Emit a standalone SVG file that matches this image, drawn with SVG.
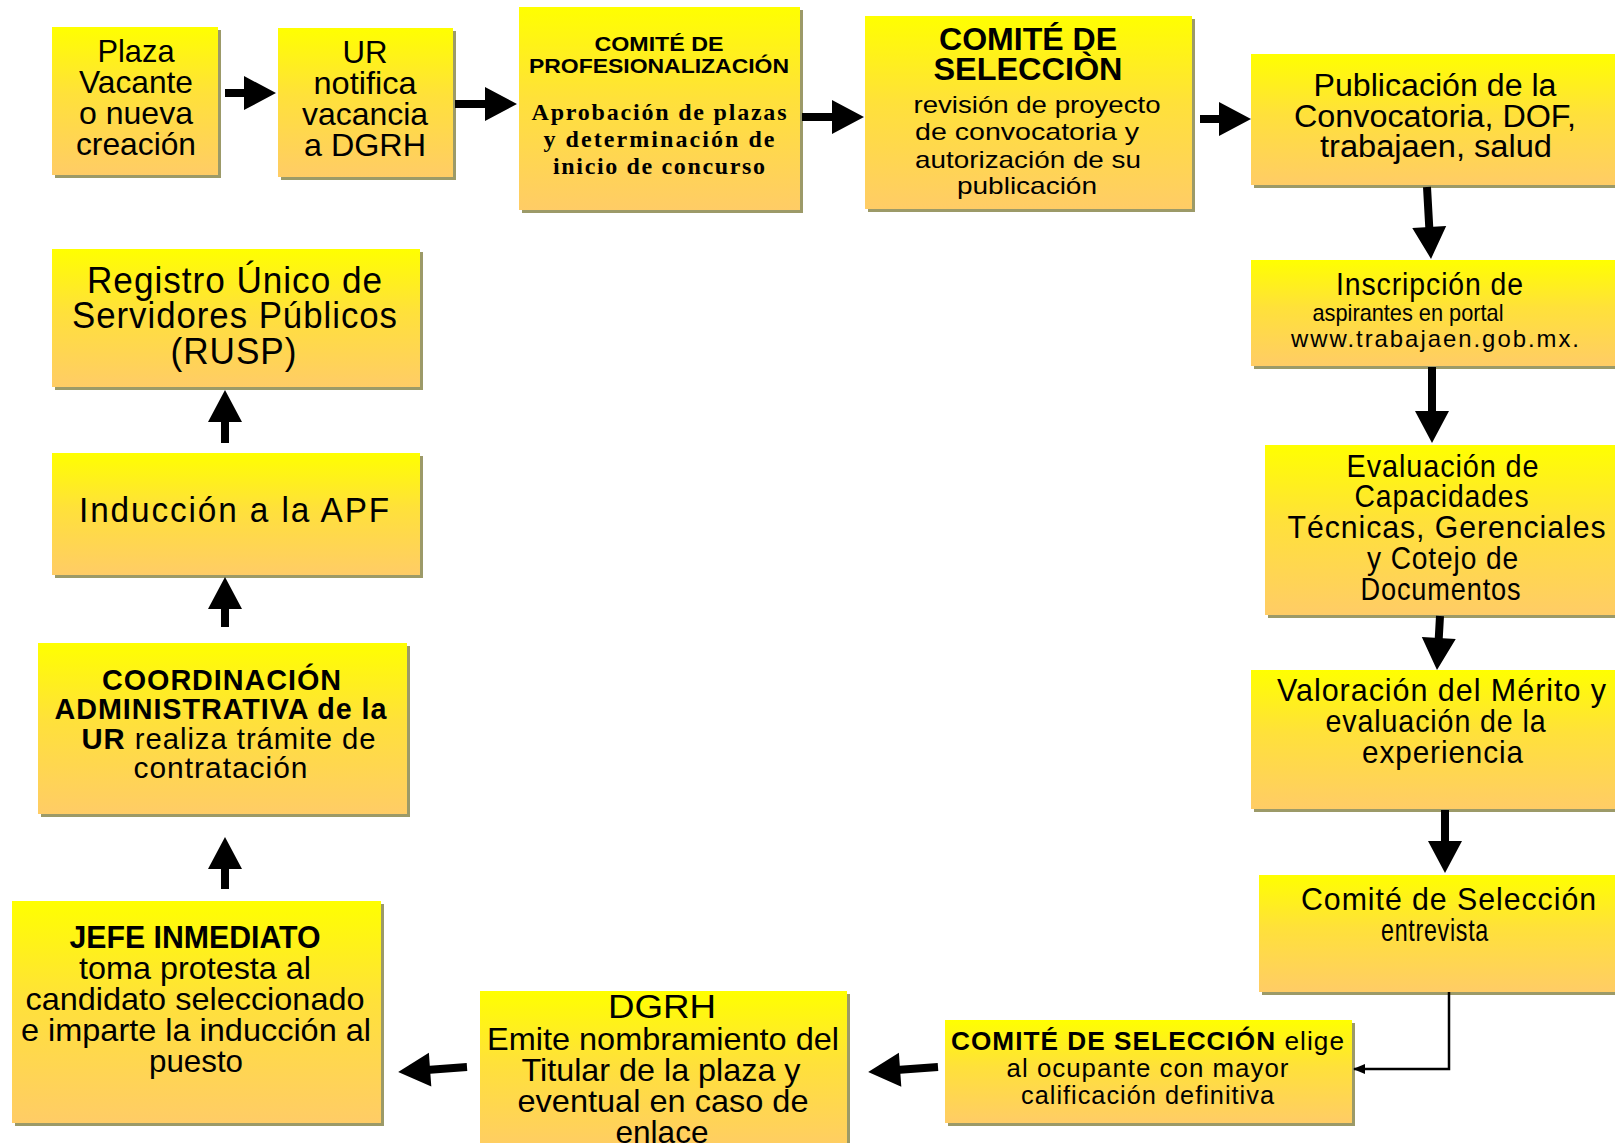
<svg xmlns="http://www.w3.org/2000/svg" width="1615" height="1143" viewBox="0 0 1615 1143">
<defs>
<linearGradient id="g" x1="0" y1="0" x2="0" y2="1">
<stop offset="0" stop-color="#ffff00"/>
<stop offset="0.45" stop-color="#ffe13a"/>
<stop offset="1" stop-color="#ffcc66"/>
</linearGradient>
<marker id="m" markerWidth="12" markerHeight="10" refX="11" refY="5" orient="auto" markerUnits="userSpaceOnUse">
<path d="M0,0 L12,5 L0,10 Z" fill="#000"/>
</marker>
</defs>
<style>
.sh{fill:#9c9a68}
.bx{fill:url(#g)}
text{font-family:"Liberation Sans",Arial,sans-serif;fill:#000;text-anchor:middle}
.b{font-weight:bold}
.serif{font-family:"Liberation Serif","Times New Roman",serif;font-weight:bold}
.arr{fill:#000}
.ls1{letter-spacing:1px}
.ls2{letter-spacing:2px}
</style>
<rect width="1615" height="1143" fill="#fff"/>

<g id="n1">
<rect class="sh" x="55" y="30" width="166" height="148"/>
<rect class="bx" x="52" y="27" width="166" height="148"/>
<text font-size="32"><tspan x="136" y="62" textLength="77" lengthAdjust="spacingAndGlyphs">Plaza</tspan><tspan x="136" y="93" textLength="114" lengthAdjust="spacingAndGlyphs">Vacante</tspan><tspan x="136" y="124" textLength="114" lengthAdjust="spacingAndGlyphs">o nueva</tspan><tspan x="136" y="155" textLength="120" lengthAdjust="spacingAndGlyphs">creación</tspan></text>
</g>

<g id="n2">
<rect class="sh" x="281" y="31" width="175" height="149"/>
<rect class="bx" x="278" y="28" width="175" height="149"/>
<text font-size="32"><tspan x="365" y="63" textLength="45" lengthAdjust="spacingAndGlyphs">UR</tspan><tspan x="365" y="94" textLength="103" lengthAdjust="spacingAndGlyphs">notifica</tspan><tspan x="365" y="125" textLength="126" lengthAdjust="spacingAndGlyphs">vacancia</tspan><tspan x="365" y="156" textLength="122" lengthAdjust="spacingAndGlyphs">a DGRH</tspan></text>
</g>

<g id="n3">
<rect class="sh" x="522" y="10" width="281" height="203"/>
<rect class="bx" x="519" y="7" width="281" height="203"/>
<text class="b" font-size="20"><tspan x="659" y="51" textLength="129" lengthAdjust="spacingAndGlyphs">COMITÉ DE</tspan><tspan x="659" y="73" textLength="260" lengthAdjust="spacingAndGlyphs">PROFESIONALIZACIÓN</tspan></text>
<text class="serif" font-size="24"><tspan x="659" y="120" textLength="255" lengthAdjust="spacing">Aprobación de plazas</tspan><tspan x="659" y="147" textLength="231" lengthAdjust="spacing">y determinación de</tspan><tspan x="659" y="174" textLength="212" lengthAdjust="spacing">inicio de concurso</tspan></text>
</g>

<g id="n4">
<rect class="sh" x="868" y="19" width="327" height="193"/>
<rect class="bx" x="865" y="16" width="327" height="193"/>
<text class="b" font-size="32"><tspan x="1028" y="50" textLength="178" lengthAdjust="spacingAndGlyphs">COMITÉ DE</tspan><tspan x="1028" y="80" textLength="189" lengthAdjust="spacingAndGlyphs">SELECCIÒN</tspan></text>
<text font-size="24"><tspan x="1037" y="113" textLength="247" lengthAdjust="spacingAndGlyphs">revisión de proyecto</tspan><tspan x="1027" y="140" textLength="224" lengthAdjust="spacingAndGlyphs">de convocatoria y</tspan><tspan x="1028" y="168" textLength="226" lengthAdjust="spacingAndGlyphs">autorización de su</tspan><tspan x="1027" y="194" textLength="140" lengthAdjust="spacingAndGlyphs">publicación</tspan></text>
</g>

<g id="n5">
<rect class="sh" x="1254" y="57" width="370" height="131"/>
<rect class="bx" x="1251" y="54" width="370" height="131"/>
<text font-size="31"><tspan x="1435" y="96" textLength="243" lengthAdjust="spacingAndGlyphs">Publicación de la</tspan><tspan x="1435" y="127" textLength="282" lengthAdjust="spacingAndGlyphs">Convocatoria, DOF,</tspan><tspan x="1436" y="157" textLength="232" lengthAdjust="spacingAndGlyphs">trabajaen, salud</tspan></text>
</g>

<g id="n6">
<rect class="sh" x="1254" y="263" width="370" height="106"/>
<rect class="bx" x="1251" y="260" width="370" height="106"/>
<text><tspan class="ls1" x="1430" y="295" font-size="31" textLength="188" lengthAdjust="spacingAndGlyphs">Inscripción de</tspan><tspan x="1408" y="321" font-size="24" textLength="191" lengthAdjust="spacingAndGlyphs">aspirantes en portal</tspan><tspan class="ls2" x="1436" y="347" font-size="24" textLength="290" lengthAdjust="spacingAndGlyphs">www.trabajaen.gob.mx.</tspan></text>
</g>

<g id="n7">
<rect class="sh" x="1268" y="448" width="360" height="170"/>
<rect class="bx" x="1265" y="445" width="360" height="170"/>
<text class="ls1" font-size="32"><tspan x="1443" y="477" textLength="193" lengthAdjust="spacingAndGlyphs">Evaluación de</tspan><tspan x="1442" y="507" textLength="175" lengthAdjust="spacingAndGlyphs">Capacidades</tspan><tspan x="1447" y="538" textLength="319" lengthAdjust="spacingAndGlyphs">Técnicas, Gerenciales</tspan><tspan x="1443" y="569" textLength="152" lengthAdjust="spacingAndGlyphs">y Cotejo de</tspan><tspan x="1441" y="600" textLength="161" lengthAdjust="spacingAndGlyphs">Documentos</tspan></text>
</g>

<g id="n8">
<rect class="sh" x="1254" y="673" width="370" height="139"/>
<rect class="bx" x="1251" y="670" width="370" height="139"/>
<text class="ls1" font-size="32"><tspan x="1442" y="701" textLength="330" lengthAdjust="spacingAndGlyphs">Valoración del Mérito y</tspan><tspan x="1436" y="732" textLength="221" lengthAdjust="spacingAndGlyphs">evaluación de la</tspan><tspan x="1443" y="763" textLength="162" lengthAdjust="spacingAndGlyphs">experiencia</tspan></text>
</g>

<g id="n9">
<rect class="sh" x="1262" y="878" width="360" height="117"/>
<rect class="bx" x="1259" y="875" width="360" height="117"/>
<text class="ls1" font-size="32"><tspan x="1449" y="910" textLength="296" lengthAdjust="spacingAndGlyphs">Comité de Selección</tspan><tspan x="1435" y="941" textLength="108" lengthAdjust="spacingAndGlyphs">entrevista</tspan></text>
</g>

<g id="n10">
<rect class="sh" x="948" y="1023" width="407" height="103"/>
<rect class="bx" x="945" y="1020" width="407" height="103"/>
<text class="ls1" font-size="25"><tspan x="1148" y="1050" textLength="394" lengthAdjust="spacingAndGlyphs"><tspan class="b">COMITÉ DE SELECCIÓN</tspan> elige</tspan><tspan x="1148" y="1077" textLength="283" lengthAdjust="spacingAndGlyphs">al ocupante con mayor</tspan><tspan x="1148" y="1104" textLength="254" lengthAdjust="spacingAndGlyphs">calificación definitiva</tspan></text>
</g>

<g id="n11">
<rect class="sh" x="483" y="994" width="367" height="160"/>
<rect class="bx" x="480" y="991" width="367" height="160"/>
<text><tspan x="662" y="1018" font-size="34" textLength="108" lengthAdjust="spacingAndGlyphs">DGRH</tspan><tspan x="663" y="1050" font-size="32" textLength="352" lengthAdjust="spacingAndGlyphs">Emite nombramiento del</tspan><tspan x="661" y="1081" font-size="32" textLength="279" lengthAdjust="spacingAndGlyphs">Titular de la plaza y</tspan><tspan x="663" y="1112" font-size="32" textLength="291" lengthAdjust="spacingAndGlyphs">eventual en caso de</tspan><tspan x="662" y="1143" font-size="32" textLength="93" lengthAdjust="spacingAndGlyphs">enlace</tspan></text>
</g>

<g id="n12">
<rect class="sh" x="15" y="904" width="369" height="222"/>
<rect class="bx" x="12" y="901" width="369" height="222"/>
<text font-size="32"><tspan class="b" x="195" y="948" textLength="251" lengthAdjust="spacingAndGlyphs">JEFE INMEDIATO</tspan><tspan x="195" y="979" textLength="232" lengthAdjust="spacingAndGlyphs">toma protesta al</tspan><tspan x="195" y="1010" textLength="339" lengthAdjust="spacingAndGlyphs">candidato seleccionado</tspan><tspan x="196" y="1041" textLength="350" lengthAdjust="spacingAndGlyphs">e imparte la inducción al</tspan><tspan x="196" y="1072" textLength="94" lengthAdjust="spacingAndGlyphs">puesto</tspan></text>
</g>

<g id="n13">
<rect class="sh" x="41" y="646" width="369" height="171"/>
<rect class="bx" x="38" y="643" width="369" height="171"/>
<text class="ls1" font-size="30"><tspan class="b" x="222" y="690" textLength="240" lengthAdjust="spacingAndGlyphs">COORDINACIÓN</tspan><tspan x="221" y="719" textLength="333" lengthAdjust="spacingAndGlyphs"><tspan class="b">ADMINISTRATIVA de la</tspan></tspan><tspan x="229" y="749" textLength="295" lengthAdjust="spacingAndGlyphs"><tspan class="b">UR</tspan>  realiza trámite de</tspan><tspan x="221" y="778" textLength="175" lengthAdjust="spacingAndGlyphs">contratación</tspan></text>
</g>

<g id="n14">
<rect class="sh" x="55" y="456" width="368" height="122"/>
<rect class="bx" x="52" y="453" width="368" height="122"/>
<text class="ls2" font-size="35"><tspan x="235" y="522" textLength="312" lengthAdjust="spacingAndGlyphs">Inducción a la APF</tspan></text>
</g>

<g id="n15">
<rect class="sh" x="55" y="252" width="368" height="138"/>
<rect class="bx" x="52" y="249" width="368" height="138"/>
<text class="ls1" font-size="36"><tspan x="235" y="293" textLength="296" lengthAdjust="spacingAndGlyphs">Registro Único de</tspan><tspan x="235" y="328" textLength="326" lengthAdjust="spacingAndGlyphs">Servidores Públicos</tspan><tspan x="234" y="364" textLength="127" lengthAdjust="spacingAndGlyphs">(RUSP)</tspan></text>
</g>

<g id="connectors">
<path class="arr" transform="translate(225,93)" d="M0,-4 H19 V-17 L51,0 L19,17 V4 H0 Z"/>
<path class="arr" transform="translate(455,104)" d="M0,-4 H30 V-17 L62,0 L30,17 V4 H0 Z"/>
<path class="arr" transform="translate(802,117)" d="M0,-4 H30 V-17 L62,0 L30,17 V4 H0 Z"/>
<path class="arr" transform="translate(1200,119)" d="M0,-4 H19 V-17 L51,0 L19,17 V4 H0 Z"/>
<path class="arr" transform="translate(1427,187) rotate(86.8)" d="M0,-4 H40 V-17 L72,0 L40,17 V4 H0 Z"/>
<path class="arr" transform="translate(1432,367) rotate(90)" d="M0,-4 H44 V-17 L76,0 L44,17 V4 H0 Z"/>
<path class="arr" transform="translate(1440,616) rotate(93.2)" d="M0,-4 H22 V-17 L54,0 L22,17 V4 H0 Z"/>
<path class="arr" transform="translate(1445,810) rotate(90)" d="M0,-4 H31 V-17 L63,0 L31,17 V4 H0 Z"/>
<polyline points="1449,992 1449,1069 1354,1069" fill="none" stroke="#000" stroke-width="2.5" marker-end="url(#m)"/>
<path class="arr" transform="translate(938,1067) rotate(175.9)" d="M0,-4 H38 V-17 L70,0 L38,17 V4 H0 Z"/>
<path class="arr" transform="translate(467,1067) rotate(175.9)" d="M0,-4 H37 V-17 L69,0 L37,17 V4 H0 Z"/>
<path class="arr" transform="translate(225,889) rotate(-90)" d="M0,-4 H20 V-17 L52,0 L20,17 V4 H0 Z"/>
<path class="arr" transform="translate(225,627) rotate(-90)" d="M0,-4 H18 V-17 L50,0 L18,17 V4 H0 Z"/>
<path class="arr" transform="translate(225,443) rotate(-90)" d="M0,-4 H21 V-17 L53,0 L21,17 V4 H0 Z"/>
</g>
</svg>
